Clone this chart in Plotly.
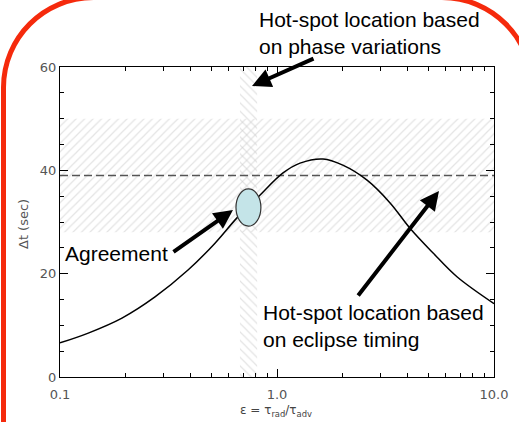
import numpy as np
import plotly.graph_objects as go

# ---- data ----
eps_vals = [0.1, 0.135, 0.193, 0.274, 0.389, 0.518, 0.654, 0.817, 1.066, 1.277,
            1.63, 2.01, 2.60, 3.32, 4.10, 5.24, 6.75, 10.0]
dt_vals = [6.6, 8.5, 11.4, 15.5, 20.7, 25.9, 30.8, 34.8, 39.5, 41.4,
           42.2, 41.0, 38.1, 33.7, 28.8, 24.0, 19.4, 14.2]
eclipse_band = [28, 50]          # Δt range from eclipse timing
phase_band = [0.675, 0.81]       # ε range from phase variations
eclipse_dt = 39                  # dashed line
agree_eps = [0.647, 0.843]
agree_dt = [29.2, 36.4]
x_tickvals = [0.1, 1, 10]
x_ticktext = ["0.1", "1.0", "10.0"]
x_minor = [0.2, 0.3, 0.4, 0.5, 0.6, 0.7, 0.8, 0.9, 2, 3, 4, 5, 6, 7, 8, 9]
y_tickvals = [0, 20, 40, 60]

W, H = 519, 422
L, R, T, B = 60, 25, 67, 45
PW, PH = W - L - R, H - T - B


def px(x):
    return (x - L) / PW


def py(y):
    return (H - B - y) / PH


fig = go.Figure()

hatch = dict(fgcolor="#c8c8c8", bgcolor="rgba(0,0,0,0)", size=6, solidity=0.2, fillmode="overlay")

# horizontal hatched band
fig.add_trace(go.Scatter(
    x=[0.1, 10, 10, 0.1, 0.1],
    y=[eclipse_band[0], eclipse_band[0], eclipse_band[1], eclipse_band[1], eclipse_band[0]],
    fill="toself", mode="none", fillcolor="rgba(0,0,0,0)",
    fillpattern=dict(shape="/", **hatch),
    hoverinfo="skip", showlegend=False))

# vertical hatched band
fig.add_trace(go.Scatter(
    x=[phase_band[0], phase_band[1], phase_band[1], phase_band[0], phase_band[0]],
    y=[0, 0, 60, 60, 0],
    fill="toself", mode="none", fillcolor="rgba(0,0,0,0)",
    fillpattern=dict(shape="\\", **hatch),
    hoverinfo="skip", showlegend=False))

# dashed line
fig.add_trace(go.Scatter(
    x=[0.1, 10], y=[eclipse_dt, eclipse_dt], mode="lines",
    line=dict(color="#555555", width=1.5, dash="8px,4px"),
    hoverinfo="skip", showlegend=False))

# model curve
fig.add_trace(go.Scatter(
    x=eps_vals, y=dt_vals, mode="lines",
    line=dict(color="black", width=1.5, shape="spline", smoothing=1.0),
    showlegend=False))

# agreement ellipse
fig.add_shape(type="circle", xref="x", yref="y",
              x0=agree_eps[0], x1=agree_eps[1], y0=agree_dt[0], y1=agree_dt[1],
              fillcolor="#c4e4e8", line=dict(color="#333333", width=1.2), layer="above")

# red rounded frame (pixel geometry -> paper)
xl, xr, yt, yb, r = 3.5, 532, -2.5, 440, 90
k = 0.5523 * r
pts = [
    ("M", [(xl, yb)]),
    ("L", [(xl, yt + r)]),
    ("C", [(xl, yt + r - k), (xl + r - k, yt), (xl + r, yt)]),
    ("L", [(xr - r, yt)]),
    ("C", [(xr - r + k, yt), (xr, yt + r - k), (xr, yt + r)]),
    ("L", [(xr, yb)]),
]
path = ""
for cmd, ps in pts:
    path += cmd + " " + " ".join(f"{px(a):.5f},{py(b):.5f}" for a, b in ps) + " "
fig.add_shape(type="path", xref="paper", yref="paper", path=path.strip(),
              line=dict(color="#f52a0c", width=5), fillcolor="rgba(0,0,0,0)", layer="above")

afont = dict(family="Liberation Sans, Arial, sans-serif", size=21, color="black")

# text labels
fig.add_annotation(xref="paper", yref="paper", x=px(257), y=py(6), xanchor="left", yanchor="top",
                   text="Hot-spot location based<br>on phase variations", showarrow=False,
                   align="left", font=afont)
fig.add_annotation(xref="paper", yref="paper", x=px(63), y=py(253), xanchor="left", yanchor="middle",
                   text="Agreement", showarrow=False, font=afont)
fig.add_annotation(xref="paper", yref="paper", x=px(261), y=py(299), xanchor="left", yanchor="top",
                   text="Hot-spot location based<br>on eclipse timing", showarrow=False,
                   align="left", font=afont)

# arrows (tip in paper coords, tail offset in px)
arrows = [((233, 210), (172, 253)), ((252, 86), (315, 58)), ((439, 191), (357, 297))]
for (tx, ty), (sx, sy) in arrows:
    fig.add_annotation(xref="paper", yref="paper", x=px(tx), y=py(ty), ax=sx - tx, ay=sy - ty,
                       axref="pixel", ayref="pixel", text="", showarrow=True,
                       arrowhead=2, arrowsize=0.95, arrowwidth=4, arrowcolor="black", standoff=0)

tfont = dict(family="DejaVu Sans, sans-serif", size=13, color="#555555")
# axis titles
fig.add_annotation(xref="paper", yref="paper", x=px(276), y=py(411), xanchor="center", yanchor="middle",
                   text="\u03b5 = \u03c4<sub>rad</sub>/\u03c4<sub>adv</sub>", showarrow=False,
                   font=dict(family="DejaVu Sans, sans-serif", size=12, color="#444444"))
fig.add_annotation(xref="paper", yref="paper", x=px(23), y=py(224), xanchor="center", yanchor="middle",
                   text="\u0394t (sec)", textangle=-90, showarrow=False,
                   font=dict(family="DejaVu Sans, sans-serif", size=13, color="#555555"))

axis_common = dict(showline=True, linecolor="black", linewidth=1, mirror="ticks",
                   ticks="inside", ticklen=8, tickwidth=1, tickcolor="black",
                   showgrid=False, zeroline=False, tickfont=tfont)

fig.update_xaxes(type="log", range=[-1, 1], tickmode="array", tickvals=x_tickvals,
                 ticktext=x_ticktext, ticklabelstandoff=5,
                 minor=dict(tickmode="array", tickvals=x_minor,
                            ticks="inside", ticklen=4, tickcolor="black", showgrid=False),
                 **axis_common)
fig.update_yaxes(range=[0, 60], tickmode="array", tickvals=y_tickvals,
                 minor=dict(dtick=5, tick0=0, ticks="inside", ticklen=4, tickcolor="black",
                            showgrid=False),
                 **axis_common)

fig.update_layout(width=W, height=H, margin=dict(l=L, r=R, t=T, b=B),
                  plot_bgcolor="white", paper_bgcolor="white", showlegend=False)

fig.write_html("out.html")
